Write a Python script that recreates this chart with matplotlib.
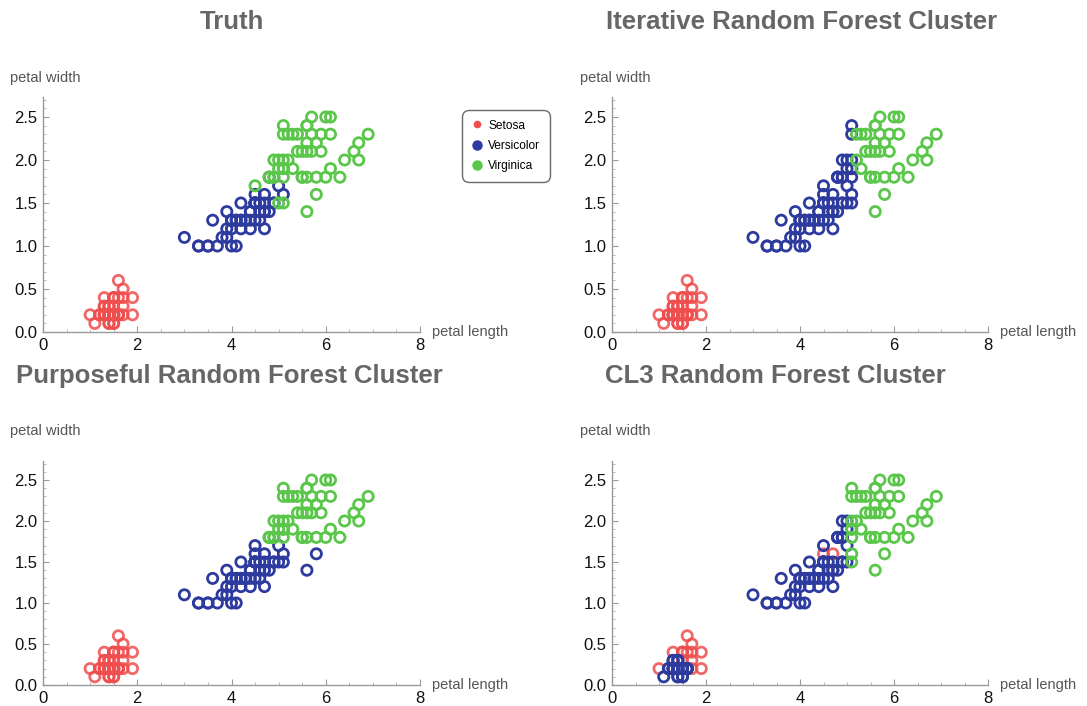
import matplotlib
matplotlib.use("Agg")
import matplotlib.pyplot as plt
from matplotlib.lines import Line2D
from matplotlib.ticker import MultipleLocator, FixedLocator
import numpy as np

plt.rcParams['font.family'] = ['Liberation Sans', 'DejaVu Sans']

# ---------------- data (Fisher iris: petal length / petal width) ----------------
petal_length = [
    1.4, 1.4, 1.3, 1.5, 1.4, 1.7, 1.4, 1.5, 1.4, 1.5, 1.5, 1.6, 1.4, 1.1, 1.2, 1.5, 1.3, 1.4, 1.7, 1.5,
    1.7, 1.5, 1.0, 1.7, 1.9, 1.6, 1.6, 1.5, 1.4, 1.6, 1.6, 1.5, 1.5, 1.4, 1.5, 1.2, 1.3, 1.4, 1.3, 1.5,
    1.3, 1.3, 1.3, 1.6, 1.9, 1.4, 1.6, 1.4, 1.5, 1.4,
    4.7, 4.5, 4.9, 4.0, 4.6, 4.5, 4.7, 3.3, 4.6, 3.9, 3.5, 4.2, 4.0, 4.7, 3.6, 4.4, 4.5, 4.1, 4.5, 3.9,
    4.8, 4.0, 4.9, 4.7, 4.3, 4.4, 4.8, 5.0, 4.5, 3.5, 3.8, 3.7, 3.9, 5.1, 4.5, 4.5, 4.7, 4.4, 4.1, 4.0,
    4.4, 4.6, 4.0, 3.3, 4.2, 4.2, 4.2, 4.3, 3.0, 4.1,
    6.0, 5.1, 5.9, 5.6, 5.8, 6.6, 4.5, 6.3, 5.8, 6.1, 5.1, 5.3, 5.5, 5.0, 5.1, 5.3, 5.5, 6.7, 6.9, 5.0,
    5.7, 4.9, 6.7, 4.9, 5.7, 6.0, 4.8, 4.9, 5.6, 5.8, 6.1, 6.4, 5.6, 5.1, 5.6, 6.1, 5.6, 5.5, 4.8, 5.4,
    5.6, 5.1, 5.1, 5.9, 5.7, 5.2, 5.0, 5.2, 5.4, 5.1,
]
petal_width = [
    0.2, 0.2, 0.2, 0.2, 0.2, 0.4, 0.3, 0.2, 0.2, 0.1, 0.2, 0.2, 0.1, 0.1, 0.2, 0.4, 0.4, 0.3, 0.3, 0.3,
    0.2, 0.4, 0.2, 0.5, 0.2, 0.2, 0.4, 0.2, 0.2, 0.2, 0.2, 0.4, 0.1, 0.2, 0.2, 0.2, 0.2, 0.1, 0.2, 0.2,
    0.3, 0.3, 0.2, 0.6, 0.4, 0.3, 0.2, 0.2, 0.2, 0.2,
    1.4, 1.5, 1.5, 1.3, 1.5, 1.3, 1.6, 1.0, 1.3, 1.4, 1.0, 1.5, 1.0, 1.4, 1.3, 1.4, 1.5, 1.0, 1.5, 1.1,
    1.8, 1.3, 1.5, 1.2, 1.3, 1.4, 1.4, 1.7, 1.5, 1.0, 1.1, 1.0, 1.2, 1.6, 1.5, 1.6, 1.5, 1.3, 1.3, 1.3,
    1.2, 1.4, 1.2, 1.0, 1.3, 1.2, 1.3, 1.3, 1.1, 1.3,
    2.5, 1.9, 2.1, 1.8, 2.2, 2.1, 1.7, 1.8, 1.8, 2.5, 2.0, 1.9, 2.1, 2.0, 2.4, 2.3, 1.8, 2.2, 2.3, 1.5,
    2.3, 2.0, 2.0, 1.8, 2.1, 1.8, 1.8, 1.8, 2.1, 1.6, 1.9, 2.0, 2.2, 1.5, 1.4, 2.3, 2.4, 1.8, 1.8, 2.1,
    2.4, 2.3, 1.9, 2.3, 2.5, 2.3, 1.9, 2.0, 2.3, 1.8,
]

# cluster labels: 0 = Setosa, 1 = Versicolor, 2 = Virginica
labels_truth = [0] * 50 + [1] * 50 + [2] * 50

labels_iterative = (
    [0] * 50 + [1] * 50 +
    [2, 1, 2, 2, 2, 2, 1, 2, 2, 2, 1, 2, 2, 1, 1, 2, 2, 2, 2, 1,
     2, 1, 2, 1, 2, 2, 1, 1, 2, 2, 2, 2, 2, 1, 2, 2, 2, 2, 1, 2,
     2, 1, 1, 2, 2, 2, 1, 2, 2, 1]
)

labels_purposeful = (
    [0] * 50 +
    [1, 1, 1, 1, 1, 1, 1, 1, 1, 1, 1, 1, 1, 1, 1, 1, 1, 1, 1, 1,
     2, 1, 1, 1, 1, 1, 1, 1, 1, 1, 1, 1, 1, 1, 1, 1, 1, 1, 1, 1,
     1, 1, 1, 1, 1, 1, 1, 1, 1, 1] +
    [2, 2, 2, 2, 2, 2, 1, 2, 2, 2, 2, 2, 2, 2, 2, 2, 2, 2, 2, 1,
     2, 2, 2, 2, 2, 2, 2, 2, 2, 1, 2, 2, 2, 1, 1, 2, 2, 2, 2, 2,
     2, 2, 2, 2, 2, 2, 2, 2, 2, 2]
)

labels_cl3 = (
    [1, 1, 1, 1, 1, 0, 1, 1, 1, 1, 1, 1, 1, 1, 1, 0, 0, 1, 0, 0,
     0, 0, 0, 0, 0, 1, 0, 1, 1, 1, 1, 0, 1, 1, 1, 1, 1, 1, 1, 1,
     1, 1, 1, 0, 0, 1, 1, 1, 1, 1] +
    [1, 1, 1, 1, 1, 1, 0, 1, 1, 1, 1, 1, 1, 1, 1, 1, 1, 1, 1, 1,
     1, 1, 1, 1, 1, 1, 1, 1, 1, 1, 1, 1, 1, 2, 1, 0, 1, 1, 1, 1,
     1, 1, 1, 1, 1, 1, 1, 1, 1, 1] +
    [2, 2, 2, 2, 2, 2, 1, 2, 2, 2, 2, 2, 2, 1, 2, 2, 2, 2, 2, 1,
     2, 1, 2, 1, 2, 2, 1, 1, 2, 2, 2, 2, 2, 2, 2, 2, 2, 2, 1, 2,
     2, 2, 2, 2, 2, 2, 1, 2, 2, 2]
)

class_names = ["Setosa", "Versicolor", "Virginica"]
panel_titles = ["Truth", "Iterative Random Forest Cluster",
                "Purposeful Random Forest Cluster", "CL3 Random Forest Cluster"]
x_ticks = [0, 2, 4, 6, 8]
y_ticks = [0.0, 0.5, 1.0, 1.5, 2.0, 2.5]

# ---------------- style ----------------
colors = ["#EF4E4E", "#2D3A9E", "#5AC64A"]
alphas = [0.85, 1.0, 1.0]

W, H = 1087, 706
fig = plt.figure(figsize=(W / 100, H / 100), dpi=100)
fig.patch.set_facecolor("white")

def px_axes(x0, x1, y_bottom, y_top):
    return fig.add_axes([x0 / W, 1 - y_bottom / H, (x1 - x0) / W, (y_bottom - y_top) / H])

YMAX = 2.73
panels = [
    # (x0, x1, y_zero, px_per_unit_y, labels, title_center_x, title_y)
    (43, 420, 332, 86.0, labels_truth, 232, 22),
    (612, 988, 332, 86.0, labels_iterative, 802, 22),
    (43, 420, 685, 82.0, labels_purposeful, 229, 376),
    (612, 988, 685, 82.0, labels_cl3, 775, 376),
]

pl = np.array(petal_length)
pw = np.array(petal_width)

axes = []
for (x0, x1, y0, ppu, labs, tcx, ty), title in zip(panels, panel_titles):
    ytop = y0 - YMAX * ppu
    ax = px_axes(x0, x1, y0, ytop)
    axes.append(ax)
    labs = np.array(labs)
    for k in range(3):
        m = labs == k
        ax.scatter(pl[m], pw[m], s=54, facecolors="none", edgecolors=colors[k],
                   linewidths=2.0, alpha=alphas[k], clip_on=False, zorder=3 + k)
    ax.set_xlim(0, 8)
    ax.set_ylim(0, YMAX)
    for s in ["top", "right"]:
        ax.spines[s].set_visible(False)
    for s in ["left", "bottom"]:
        ax.spines[s].set_color("#9a9a9a")
        ax.spines[s].set_linewidth(1.0)
    ax.xaxis.set_major_locator(FixedLocator(x_ticks))
    ax.yaxis.set_major_locator(FixedLocator(y_ticks))
    ax.xaxis.set_minor_locator(MultipleLocator(0.5))
    ax.yaxis.set_minor_locator(MultipleLocator(0.1))
    ax.set_xticklabels([str(t) for t in x_ticks])
    ax.set_yticklabels([f"{t:.1f}" for t in y_ticks])
    ax.tick_params(which="major", direction="in", length=4, width=0.8, color="#9a9a9a",
                   labelsize=12, labelcolor="#111111", pad=4)
    ax.tick_params(which="minor", direction="in", length=2.2, width=0.6, color="#b0b0b0")
    ax.patch.set_alpha(0)
    # axis labels
    fig.text(10 / W if x0 < 300 else 580 / W, 1 - (y0 - 254) / H, "petal width",
             fontsize=10.5, color="#555555", ha="left", va="center")
    fig.text((x1 + 12) / W, 1 - y0 / H, "petal length",
             fontsize=10.5, color="#555555", ha="left", va="center")
    fig.text(tcx / W, 1 - ty / H, title, fontsize=18.5, fontweight="bold",
             color="#666666", ha="center", va="center")

# legend
handles = [Line2D([], [], linestyle="none", marker="o", markersize=ms,
                  markerfacecolor=c, markeredgecolor=c, label=n)
           for c, n, ms in zip(colors, class_names, [4.5, 6.5, 6.5])]
leg = fig.legend(handles=handles, loc="upper left",
                 bbox_to_anchor=(462 / W, 1 - 110 / H), bbox_transform=fig.transFigure,
                 frameon=True, fancybox=True, fontsize=8.6, handlelength=0.9,
                 handletextpad=0.5, labelspacing=0.7, borderpad=0.8, borderaxespad=0)
frame = leg.get_frame()
frame.set_edgecolor("#444444")
frame.set_linewidth(1.0)
frame.set_boxstyle("round,pad=0,rounding_size=0.6")

fig.savefig("out.png", dpi=100, facecolor="white")
